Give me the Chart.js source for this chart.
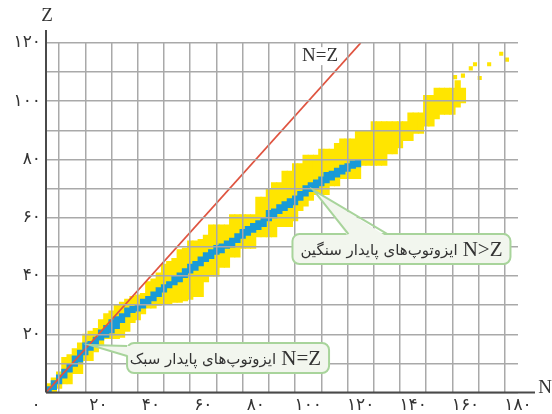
<!DOCTYPE html>
<html>
<head>
<meta charset="utf-8">
<script src="https://cdn.jsdelivr.net/npm/chart.js@4.4.1/dist/chart.umd.min.js"></script>
<style>
  body { margin: 0; background: #fff; }
  #wrap { width: 552px; height: 414px; position: relative; }
</style>
</head>
<body>
<div id="wrap"><canvas id="nuclideChart"></canvas></div>
<script>
// ستون‌های دوتایی N (شروع ستون) و بازه Z نوار زرد (همه ایزوتوپ‌ها)
const yellowN = [0, 2, 4, 6, 8, 10, 12, 14, 16, 18, 20, 22, 24, 26, 28, 30, 32, 34, 36, 38,
  40, 42, 44, 46, 48, 50, 52, 54, 56, 58, 60, 62, 64, 66, 68, 70, 72, 74, 76, 78,
  80, 82, 84, 86, 88, 90, 92, 94, 96, 98, 100, 102, 104, 106, 108, 110, 112, 114, 116, 118,
  120, 122, 124, 126, 128, 130, 132, 134, 136, 138, 140, 142, 144, 146, 148, 150, 152, 154, 156, 158];
const yellowLo = [0, 0, 1.5, 3, 3, 6.5, 6.5, 11, 11, 14, 16, 18.5, 18.5, 18.5, 19, 21, 24, 25, 27, 29,
  29, 30, 30.5, 30.5, 31, 31, 31.5, 32, 33, 33, 38, 40, 40, 43, 43, 46.5, 46.5, 49.5, 49.5, 49.5,
  53.5, 53.5, 53.5, 53.5, 57, 57, 57, 59, 62.5, 64, 66, 68, 68, 68, 71, 71, 73.5, 73.5, 73.5, 73.5,
  78, 78, 78, 78, 78, 82, 82, 84, 86.5, 86.5, 89, 89, 91.5, 91.5, 94, 95.5, 95.5, 95.5, 98, 99.5];
const yellowHi = [3, 5, 7, 12, 13, 15, 17, 20, 21, 22, 25, 27, 28, 30, 31, 32, 33, 33.5, 34, 38,
  39, 41, 44, 45, 46, 49, 49.5, 52, 52, 52.5, 54, 57.5, 57.5, 57.5, 57.5, 61, 61, 61, 61, 61,
  67, 67, 70, 72, 72, 76, 76, 78.5, 78.5, 81.5, 81.5, 81.5, 83.5, 83.5, 83.5, 85.5, 87, 87, 87, 90,
  90, 90, 93, 93, 93, 93, 93, 93, 93, 96, 96, 96, 102, 102, 104.5, 104.5, 104.5, 104.5, 107, 104.5];

// ایزوتوپ‌های پایدار (آبی)
const stableN = [0, 2, 4, 6, 8, 10, 12, 14, 16, 18, 20, 22, 24, 26, 28, 30, 32, 34, 36, 38,
  40, 42, 44, 46, 48, 50, 52, 54, 56, 58, 60, 62, 64, 66, 68, 70, 72, 74, 76, 78,
  80, 82, 84, 86, 88, 90, 92, 94, 96, 98, 100, 102, 104, 106, 108, 110, 112, 114, 116, 118];
const stableLo = [0, 1, 3, 5, 7, 9, 10.5, 13, 14.5, 16, 18, 19, 20.5, 22, 24, 26, 27.5, 28, 29, 30.5,
  31.5, 33, 34.5, 36, 37, 38, 39.5, 41, 42, 43.5, 45, 46, 47.5, 48, 49.5, 50, 51.5, 53, 54, 55,
  56, 57, 59, 60, 61.5, 62.5, 63.5, 64.5, 66, 67.5, 69, 70, 71, 72, 73, 74, 75, 76, 77, 77.5];
const stableHi = [2, 4, 6, 8, 10, 12.5, 14.5, 17, 17.5, 19, 21.5, 23, 25, 26, 27, 29, 29.5, 30, 32, 33,
  34.5, 36, 37, 38, 40, 41, 42.5, 44, 45, 46.5, 48, 49, 50.5, 51, 52, 53, 54.5, 56, 57, 58,
  59, 60, 62.5, 63, 64.5, 65.5, 66.5, 67.5, 69, 71, 72, 73, 74, 75.5, 76, 77, 78, 78.5, 79.5, 80];

// هسته‌های پراکنده بالای نوار
const looseN = [156, 159, 162, 163.6, 165.4, 169, 173.6, 175.8];
const looseZ = [108.3, 108.8, 111.3, 112.7, 108, 112.7, 116.3, 114.3];

// خط N=Z
const lineN = [0, 120];
const lineZ = [0, 120];

const xTicks = [20, 40, 60, 80, 100, 120, 140, 160, 180];
const yTicks = [20, 40, 60, 80, 100, 120];

const YELLOW = "#FFE500";
const BLUE = "#1A9AD7";

function fa(n) {
  return String(n).replace(/\d/g, (d) => "۰۱۲۳۴۵۶۷۸۹"[d]);
}

// ستون‌ها روی محور خطی، وسط هر ستون دوتایی
const yellowData = yellowN.map((n, i) => ({ x: n + 1, y: [yellowLo[i], yellowHi[i]] }));
const stableData = stableN.map((n, i) => ({ x: n + 1, y: [stableLo[i], stableHi[i]] }));
const looseData = looseN.map((n, i) => ({ x: n, y: looseZ[i] }));
const lineData = lineN.map((n, i) => ({ x: n, y: lineZ[i] }));

// راهنماها: نقطه اشاره به مختصات داده، کادر با فاصله پیکسلی
const callouts = [
  { n: 102, z: 69.5, box: [-21, 44, 218, 30], base: [35, 74], label: "N>Z",
    text: "ایزوتوپ\u200cهای پایدار سنگین" },
  { n: 16.8, z: 16.3, box: [37, -2, 202, 30], base: [[37, 1], [37, 11]], label: "N=Z",
    text: "ایزوتوپ\u200cهای پایدار سبک", side: true },
];

function roundRect(ctx, x, y, w, h, r) {
  ctx.beginPath();
  ctx.moveTo(x + r, y);
  ctx.arcTo(x + w, y, x + w, y + h, r);
  ctx.arcTo(x + w, y + h, x, y + h, r);
  ctx.arcTo(x, y + h, x, y, r);
  ctx.arcTo(x, y, x + w, y, r);
  ctx.closePath();
}

const extras = {
  id: "extras",
  afterDraw(chart) {
    const { ctx, chartArea: a, scales } = chart;
    const sx = scales.x, sy = scales.y;
    ctx.save();

    // محورها
    ctx.strokeStyle = "#4a4a4a";
    ctx.lineWidth = 2;
    ctx.beginPath();
    ctx.moveTo(a.left, a.bottom);
    ctx.lineTo(a.left, a.top - 13);
    ctx.moveTo(a.left, a.bottom);
    ctx.lineTo(a.right + 17, a.bottom);
    ctx.stroke();

    ctx.fillStyle = "#333";
    ctx.font = "19px 'Liberation Serif'";
    ctx.textAlign = "center";
    ctx.textBaseline = "middle";
    ctx.fillText("Z", a.left + 1, a.top - 27);
    ctx.fillText("N", a.right + 27, a.bottom - 4);

    // برچسب خط N=Z با زمینه سفید روی شبکه
    const lx = sx.getPixelForValue(104.5), ly = sy.getPixelForValue(115.5);
    const lw0 = ctx.measureText("N=Z").width;
    ctx.fillStyle = "#fff";
    ctx.fillRect(lx - lw0 / 2 - 2, ly - 9, lw0 + 4, 18);
    ctx.fillStyle = "#333";
    ctx.fillText("N=Z", lx, ly);

    ctx.font = "17px 'DejaVu Sans'";
    ctx.fillText(fa(0), a.left - 10, a.bottom + 13);

    // کادرهای توضیح
    callouts.forEach((c) => {
      const tx = sx.getPixelForValue(c.n), ty = sy.getPixelForValue(c.z);
      const bx = tx + c.box[0], by = ty + c.box[1], bw = c.box[2], bh = c.box[3];
      let b1, b2, i1, i2;
      if (c.side) {
        b1 = [tx + c.base[0][0], ty + c.base[0][1]];
        b2 = [tx + c.base[1][0], ty + c.base[1][1]];
        i1 = [b1[0] + 3, b1[1]];
        i2 = [b2[0] + 3, b2[1]];
      } else {
        b1 = [tx + c.base[0], by];
        b2 = [tx + c.base[1], by];
        i1 = [b1[0], by + 3];
        i2 = [b2[0], by + 3];
      }
      ctx.fillStyle = "#F2F6EE";
      ctx.strokeStyle = "#A8D49B";
      ctx.lineWidth = 2;
      roundRect(ctx, bx, by, bw, bh, 7);
      ctx.fill();
      ctx.stroke();
      ctx.beginPath();
      ctx.moveTo(tx, ty);
      ctx.lineTo(i1[0], i1[1]);
      ctx.lineTo(i2[0], i2[1]);
      ctx.closePath();
      ctx.fill();
      ctx.beginPath();
      ctx.moveTo(b1[0], b1[1]);
      ctx.lineTo(tx, ty);
      ctx.lineTo(b2[0], b2[1]);
      ctx.stroke();

      ctx.fillStyle = "#333";
      ctx.textBaseline = "middle";
      ctx.direction = "ltr";
      ctx.textAlign = "right";
      ctx.font = "21px 'Liberation Serif'";
      ctx.fillText(c.label, bx + bw - 8, by + bh / 2 + 1);
      const lw = ctx.measureText(c.label).width;
      ctx.direction = "rtl";
      ctx.font = "15px 'DejaVu Sans'";
      ctx.fillText(c.text, bx + bw - 13 - lw, by + bh / 2 + 2);
      ctx.direction = "ltr";
    });
    ctx.restore();
  },
};

new Chart(document.getElementById("nuclideChart"), {
  type: "bar",
  data: {
    datasets: [
      {
        type: "line",
        data: lineData,
        borderColor: "#DF5440",
        borderWidth: 1.8,
        pointRadius: 0,
        order: 0,
      },
      {
        type: "scatter",
        data: looseData,
        backgroundColor: YELLOW,
        borderWidth: 0,
        pointStyle: "rect",
        pointRadius: 2.9,
        order: 3,
      },
      {
        data: stableData,
        backgroundColor: BLUE,
        borderWidth: 0,
        inflateAmount: 0.5,
        grouped: false,
        barPercentage: 1,
        categoryPercentage: 1,
        order: 1,
      },
      {
        data: yellowData,
        backgroundColor: YELLOW,
        borderWidth: 0,
        inflateAmount: 0.5,
        grouped: false,
        barPercentage: 1,
        categoryPercentage: 1,
        order: 2,
      },
    ],
  },
  options: {
    responsive: true,
    maintainAspectRatio: false,
    animation: false,
    layout: { padding: { top: 43, right: 34, left: 0, bottom: 0 } },
    plugins: { legend: { display: false }, tooltip: { enabled: false } },
    scales: {
      x: {
        type: "linear",
        min: 0,
        max: 180,
        offset: false,
        afterFit: (s) => { s.height = 21.5; },
        afterBuildTicks: (s) => {
          s.ticks = [];
          for (let v = 0; v <= 180; v += 10) s.ticks.push({ value: v });
        },
        ticks: {
          autoSkip: false,
          maxRotation: 0,
          padding: 3,
          color: "#333",
          font: { family: "DejaVu Sans", size: 17 },
          callback: (v) => (xTicks.includes(v) ? fa(v) : ""),
        },
        grid: { color: "#A9A9A9", lineWidth: 1.5, drawTicks: false, z: 1 },
        border: { display: false },
      },
      y: {
        min: 0,
        max: 120,
        afterFit: (s) => { s.width = 46; },
        afterBuildTicks: (s) => {
          s.ticks = [];
          for (let v = 0; v <= 120; v += 10) s.ticks.push({ value: v });
        },
        ticks: {
          autoSkip: false,
          padding: 5,
          color: "#333",
          font: { family: "DejaVu Sans", size: 17 },
          callback: (v) => (yTicks.includes(v) ? fa(v) : ""),
        },
        grid: { color: "#A9A9A9", lineWidth: 1.5, drawTicks: false, z: 1 },
        border: { display: false },
      },
    },
  },
  plugins: [extras],
});
</script>
</body>
</html>
